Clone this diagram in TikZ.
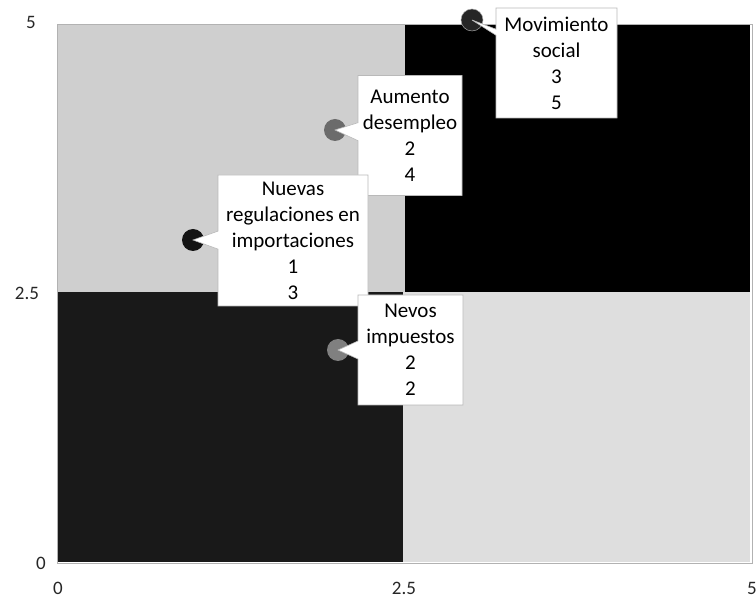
\documentclass[tikz,border=0pt]{standalone}
\usepackage{fontspec}
\setmainfont{Carlito}
\usetikzlibrary{shapes.callouts}
\begin{document}
\begin{tikzpicture}[x=1pt,y=-1pt,
  lbl/.style={rectangle callout, fill=white, draw=gray!55, line width=0.6pt,
    align=center, font=\fontsize{21}{26}\selectfont, inner sep=0pt,
    callout pointer width=18pt},
  tick/.style={font=\fontsize{19}{22}\selectfont, text=black!85, inner sep=0pt},
  mk/.style={circle, minimum size=22pt, inner sep=0pt}]
\useasboundingbox (0,0) rectangle (756,601);
% quadrant backgrounds
\fill[gray!38] (57,24) rectangle (405,292);
\fill[black] (405,24) rectangle (750,292);
\fill[black!90] (57,292) rectangle (403,562);
\fill[gray!26] (403,292) rectangle (750,562);
\draw[gray!60, line width=0.6pt] (57,24) rectangle (752,563);
% axis labels
\node[tick] (y5) at (31,22) {5};
\node[tick] (y25) at (27,293) {2.5};
\node[tick] (y0) at (41,563) {0};
\node[tick] (x0) at (58,588) {0};
\node[tick] (x25) at (404,588) {2.5};
\node[tick] (x5) at (752,588) {5};
% data points
\node[mk, fill=black!85, draw=gray!70, line width=0.5pt] (m1) at (472,20) {};
\node[mk, fill=black!58] (m2) at (335,130) {};
\node[mk, fill=black!92] (m3) at (193,240) {};
\node[mk, fill=black!50] (m4) at (338,350) {};
% data labels
\node[lbl, minimum width=121pt, minimum height=110pt, callout pointer width=6pt,
  callout absolute pointer={(m1.center)}] (c1) at (556.5,63) {Movimiento\\social\\3\\5};
\node[lbl, minimum width=104pt, minimum height=120pt,
  callout absolute pointer={(m2.center)}] (c2) at (410,135.5) {Aumento\\desempleo\\2\\4};
\node[lbl, minimum width=150pt, minimum height=131pt,
  callout absolute pointer={(m3.center)}] (c3) at (293,240.5) {Nuevas\\regulaciones en\\importaciones\\1\\3};
\node[lbl, minimum width=105pt, minimum height=110pt,
  callout absolute pointer={(m4.center)}] (c4) at (410.5,350) {Nevos\\impuestos\\2\\2};
\end{tikzpicture}
\end{document}
